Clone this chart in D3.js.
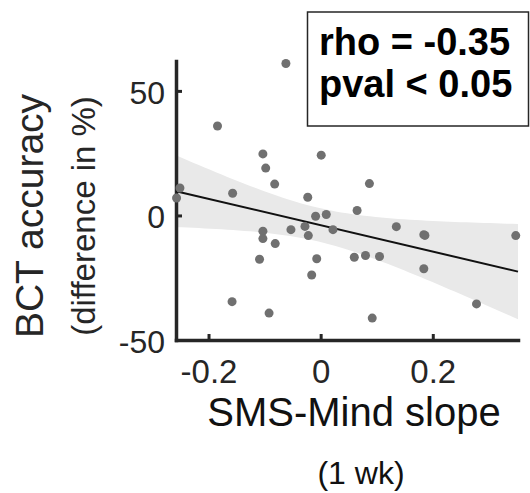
<!DOCTYPE html>
<html>
<head>
<meta charset="utf-8">
<script src="https://cdn.jsdelivr.net/npm/d3@7"></script>
<style>
  body { margin: 0; background: #fff; }
</style>
</head>
<body>
<div id="vis"></div>
<script>
////////data////////////////////////////////////
const slopeX = [-0.257, -0.251, -0.184, -0.157, -0.158, -0.103, -0.098, -0.082, -0.103, -0.103,
                -0.081, -0.109, -0.092, -0.062, -0.053, -0.023, -0.028, -0.022, -0.009, 0.001,
                 0.010, -0.007, -0.016, 0.022, 0.065, 0.087, 0.060, 0.080, 0.105, 0.092,
                 0.135, 0.184, 0.186, 0.184, 0.278, 0.348];
const accDiff = [7.0, 11.0, 35.9, 8.9, -34.6, 24.7, 19.0, 12.6, -6.3, -9.3,
                 -11.3, -17.6, -39.2, 61.0, -5.7, 7.3, -4.4, -8.1, -0.3, 24.2,
                 0.4, -17.4, -23.9, -5.7, 2.0, 12.8, -16.8, -16.1, -16.5, -41.2,
                 -4.5, -7.7, -8.0, -21.4, -35.5, -8.1];
const xTicks = [-0.2, 0, 0.2];
const yTicks = [-50, 0, 50];
const xDomain = [-0.258, 0.352];
const yDomain = [-50, 62];
const statLines = ["rho = -0.35", "pval < 0.05"];
const yTitle = ["BCT accuracy", "(difference in %)"];
const xTitle = ["SMS-Mind slope", "(1 wk)"];

////////setting up/////////////////////////////////////////////////
var width = 530
var height = 493
const axisColor = "#262626";

const svg = d3.select("#vis")
          .append("svg")
          .attr("width", width)
          .attr("height", height)
          .attr("font-family", "'Liberation Sans', Arial, sans-serif");

const x = d3.scaleLinear().domain(xDomain).range([176, 518]);
const y = d3.scaleLinear().domain(yDomain).range([340, 61]);

////////linear fit + 95% confidence band///////////////////////////
const n = slopeX.length;
const mx = d3.mean(slopeX), my = d3.mean(accDiff);
let sxx = 0, sxy = 0;
for (let i = 0; i < n; i++) {
  sxx += (slopeX[i] - mx) ** 2;
  sxy += (slopeX[i] - mx) * (accDiff[i] - my);
}
const b1 = sxy / sxx, b0 = my - b1 * mx;
let sse = 0;
for (let i = 0; i < n; i++) sse += (accDiff[i] - b0 - b1 * slopeX[i]) ** 2;
const s = Math.sqrt(sse / (n - 2));
const tCrit = 2.032; // t(0.975, df = 34)

const bandX = d3.range(0, 61).map(i => xDomain[0] + (xDomain[1] - xDomain[0]) * i / 60);
const band = bandX.map(v => {
  const fit = b0 + b1 * v;
  const hw = tCrit * s * Math.sqrt(1 / n + (v - mx) ** 2 / sxx);
  return {x: v, lo: fit - hw, hi: fit + hw};
});

svg.append("path")
   .datum(band)
   .attr("fill", "#e9e9e9")
   .attr("d", d3.area().x(d => x(d.x)).y0(d => y(d.lo)).y1(d => y(d.hi)));

////////axes////////////////////////////////////////////////////////
const xAxis = svg.append("g")
   .attr("transform", "translate(0,340)")
   .call(d3.axisBottom(x).tickValues(xTicks).tickFormat(d => String(d))
         .tickSizeInner(-6).tickSizeOuter(0).tickPadding(21));
const yAxis = svg.append("g")
   .attr("transform", "translate(176,0)")
   .call(d3.axisLeft(y).tickValues(yTicks).tickFormat(d => String(d))
         .tickSizeInner(-6).tickSizeOuter(0).tickPadding(11));

[xAxis, yAxis].forEach(g => {
  g.select(".domain").attr("stroke", axisColor).attr("stroke-width", 3.5).attr("stroke-linecap", "square");
  g.selectAll(".tick line").attr("stroke", axisColor).attr("stroke-width", 3);
  g.selectAll(".tick text").attr("fill", axisColor).attr("font-size", 33)
   .attr("font-family", "'Liberation Sans', Arial, sans-serif");
});
yAxis.selectAll(".tick text").attr("font-size", 32).attr("dy", "0.38em");
xAxis.selectAll(".tick text").attr("dy", "0.66em");

////////fit line + points////////////////////////////////////////////
svg.append("line")
   .attr("x1", x(xDomain[0])).attr("y1", y(b0 + b1 * xDomain[0]))
   .attr("x2", x(xDomain[1])).attr("y2", y(b0 + b1 * xDomain[1]))
   .attr("stroke", "#111").attr("stroke-width", 2);

svg.append("g")
   .selectAll("circle")
   .data(slopeX.map((v, i) => ({x: v, y: accDiff[i]})))
   .join("circle")
   .attr("cx", d => x(d.x))
   .attr("cy", d => y(d.y))
   .attr("r", 4.5)
   .attr("fill", "#707070");

////////titles//////////////////////////////////////////////////////
svg.append("text")
   .attr("transform", "translate(43,216) rotate(-90)")
   .attr("text-anchor", "middle")
   .attr("font-size", 39)
   .attr("fill", axisColor)
   .text(yTitle[0]);
svg.append("text")
   .attr("transform", "translate(95,216) rotate(-90)")
   .attr("text-anchor", "middle")
   .attr("font-size", 33)
   .attr("fill", axisColor)
   .text(yTitle[1]);

svg.append("text")
   .attr("x", 354).attr("y", 426)
   .attr("text-anchor", "middle")
   .attr("font-size", 40)
   .attr("fill", "#111")
   .text(xTitle[0]);
svg.append("text")
   .attr("x", 361).attr("y", 484)
   .attr("text-anchor", "middle")
   .attr("font-size", 32)
   .attr("fill", "#111")
   .text(xTitle[1]);

////////stats box///////////////////////////////////////////////////
svg.append("rect")
   .attr("x", 307.5).attr("y", 12)
   .attr("width", 221).attr("height", 114)
   .attr("fill", "#fff")
   .attr("stroke", axisColor)
   .attr("stroke-width", 1.5);

svg.append("g")
   .selectAll("text")
   .data(statLines)
   .join("text")
   .attr("x", 319)
   .attr("y", (d, i) => 55 + i * 42)
   .attr("font-size", 38)
   .attr("font-weight", "bold")
   .attr("fill", "#000")
   .text(d => d);
</script>
</body>
</html>
